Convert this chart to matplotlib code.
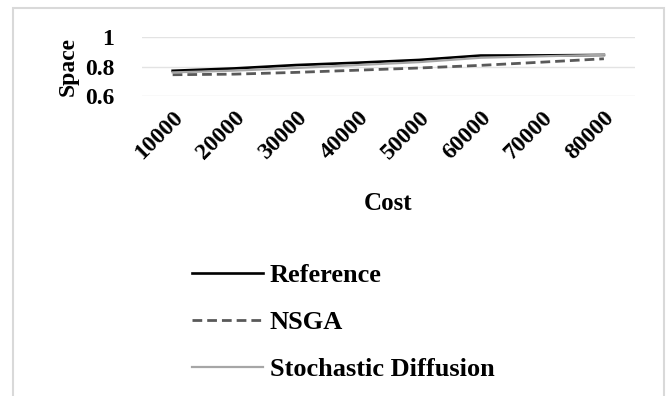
import matplotlib
matplotlib.use("Agg")
import matplotlib.pyplot as plt
from matplotlib.patches import Rectangle

plt.rcParams['font.family'] = ['Liberation Serif', 'DejaVu Serif']
plt.rcParams['font.weight'] = 'bold'
plt.rcParams['axes.labelweight'] = 'bold'

cost = ["10000", "20000", "30000", "40000", "50000", "60000", "70000", "80000"]
reference = [0.771, 0.787, 0.810, 0.826, 0.845, 0.875, 0.876, 0.879]
nsga = [0.744, 0.748, 0.760, 0.775, 0.790, 0.808, 0.830, 0.853]
stochastic = [0.760, 0.772, 0.790, 0.810, 0.830, 0.860, 0.870, 0.880]
yticks = [0.6, 0.8, 1.0]
ytick_labels = ["0.6", "0.8", "1"]

fig = plt.figure(figsize=(6.66, 3.96), dpi=100)
ax = fig.add_axes([0.213, 0.758, 0.740, 0.148])

x = range(len(cost))
ax.plot(x, reference, color="black", lw=1.9, label="Reference")
ax.plot(x, nsga, color="#595959", lw=2.0, linestyle=(0, (3.5, 1.8)), label="NSGA")
ax.plot(x, stochastic, color="#a6a6a6", lw=1.6, label="Stochastic Diffusion")

ax.set_xlim(-0.5, len(cost) - 0.5)
ax.set_ylim(0.6, 1.0)
ax.set_yticks(yticks)
ax.set_yticklabels(ytick_labels)
ax.set_xticks(list(x))
ax.set_xticklabels(cost, rotation=45, ha="right", rotation_mode="anchor")
ax.tick_params(axis="both", length=0, labelsize=17)
ax.tick_params(axis="y", pad=20)
ax.tick_params(axis="x", pad=8)
ax.grid(axis="y", color="#e3e3e3", lw=1)
ax.set_axisbelow(True)
for s in ax.spines.values():
    s.set_visible(False)

ax.set_ylabel("Space", fontsize=17, labelpad=4)
ax.set_xlabel("Cost", fontsize=18)
ax.xaxis.set_label_coords(0.5, -1.64)

fig.legend(loc="upper left", bbox_to_anchor=(0.288, 0.335), frameon=False,
           fontsize=19, handlelength=2.7, handletextpad=0.25, labelspacing=0.9,
           borderpad=0, borderaxespad=0)

fig.patches.append(Rectangle((13 / 666, -0.05), (664 - 13) / 666, 1 - 8 / 396 + 0.05,
                             transform=fig.transFigure, fill=False,
                             edgecolor="#d9d9d9", lw=1.5, clip_on=False))

fig.savefig("out.png", dpi=100)
